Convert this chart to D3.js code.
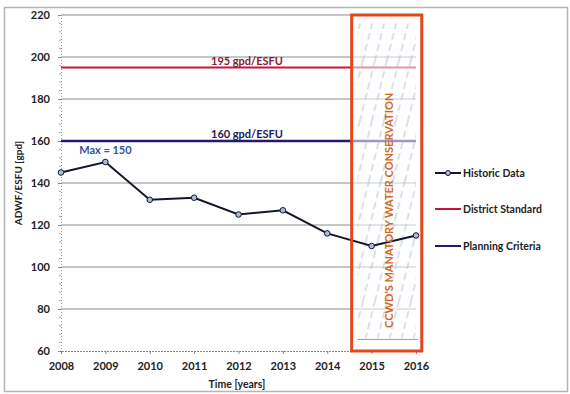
<!DOCTYPE html>
<html>
<head>
<meta charset="utf-8">
<script src="https://cdn.jsdelivr.net/npm/d3@7"></script>
<style>
  body { margin: 0; background: #fff; }
  text { font-family: Lato, "Liberation Sans", sans-serif; font-weight: bold; }
</style>
</head>
<body>
<div id="chart"></div>
<script>
// data
const years = [2008, 2009, 2010, 2011, 2012, 2013, 2014, 2015, 2016];
const historic = [145, 150, 132, 133, 125, 127, 116, 110, 115];
const districtStandard = 195;
const planningCriteria = 160;
const yTicks = [60, 80, 100, 120, 140, 160, 180, 200, 220];
const conservationSpan = [2014.55, 2016.13];
const legendNames = ["Historic Data", "District Standard", "Planning Criteria"];

const W = 570, H = 394;
const x = d3.scaleLinear().domain([2008, 2016]).range([61, 416]);
const y = d3.scaleLinear().domain([60, 220]).range([351, 15]);

const svg = d3.select("#chart").append("svg")
    .attr("width", W).attr("height", H);

// outer frame
svg.append("rect")
    .attr("x", 4.5).attr("y", 7.5).attr("width", 563).attr("height", 384)
    .attr("fill", "none").attr("stroke", "#b5b5b5").attr("stroke-width", 1.5);

// hatch pattern for conservation box
let defs = svg.append("defs");
let pat = defs.append("pattern")
    .attr("id", "hatch").attr("patternUnits", "userSpaceOnUse")
    .attr("width", 12).attr("height", 60)
    .attr("patternTransform", "skewX(-14)");
pat.append("line")
    .attr("x1", 6).attr("y1", 0).attr("x2", 6).attr("y2", 60)
    .attr("stroke", "#9fb4cc").attr("stroke-width", 0.8)
    .attr("stroke-dasharray", "7,4");

// horizontal gridlines
svg.append("g").selectAll("line").data(yTicks.slice(1)).join("line")
    .attr("x1", x(2008)).attr("x2", x(2016))
    .attr("y1", d => y(d)).attr("y2", d => y(d))
    .attr("stroke", "#8c8c8c").attr("stroke-width", 1);

// y axis
let yAxis = svg.append("g").attr("transform", `translate(${x(2008)},0)`)
    .call(d3.axisLeft(y).tickValues(yTicks).tickSize(3).tickPadding(8));
yAxis.select(".domain").attr("stroke", "#999").attr("stroke-dasharray", "1,2");
yAxis.selectAll("text").attr("font-size", 11).attr("fill", "#222");
yAxis.selectAll(".tick line").attr("stroke", "#888");
// minor ticks
svg.append("g").selectAll("line").data(d3.range(64, 220, 4).filter(d => d % 20 !== 0)).join("line")
    .attr("x1", x(2008) - 2).attr("x2", x(2008))
    .attr("y1", d => y(d)).attr("y2", d => y(d))
    .attr("stroke", "#aaa");

// x axis
let xAxis = svg.append("g").attr("transform", `translate(0,${y(60)})`)
    .call(d3.axisBottom(x).tickValues(years).tickFormat(d3.format("d")).tickSize(3).tickPadding(8));
xAxis.select(".domain").attr("stroke", "#888").attr("stroke-dasharray", "2,1");
xAxis.selectAll("text").attr("font-size", 11).attr("fill", "#222");
xAxis.selectAll(".tick line").attr("stroke", "#888");

// axis titles
svg.append("text")
    .attr("transform", `translate(22,${y(140)}) rotate(-90)`)
    .attr("text-anchor", "middle").attr("font-size", 10).attr("fill", "#222")
    .text("ADWF/ESFU [gpd]");
svg.append("text")
    .attr("x", 237).attr("y", 388)
    .attr("text-anchor", "middle").attr("font-size", 10.5).attr("fill", "#222")
    .text("Time [years]");

// reference lines
svg.append("line")
    .attr("x1", x(2008)).attr("x2", x(2016))
    .attr("y1", y(districtStandard)).attr("y2", y(districtStandard))
    .attr("stroke", "#c8143c").attr("stroke-width", 2.2);
svg.append("line")
    .attr("x1", x(2008)).attr("x2", x(2016))
    .attr("y1", y(planningCriteria)).attr("y2", y(planningCriteria))
    .attr("stroke", "#23196e").attr("stroke-width", 2.4);

svg.append("text")
    .attr("x", 247).attr("y", y(districtStandard) - 3)
    .attr("text-anchor", "middle").attr("font-size", 11).attr("font-weight", "normal")
    .attr("fill", "#8a1838").text(districtStandard + " gpd/ESFU");
svg.append("text")
    .attr("x", 247).attr("y", y(planningCriteria) - 3)
    .attr("text-anchor", "middle").attr("font-size", 11)
    .attr("fill", "#1e1c5a").text(planningCriteria + " gpd/ESFU");

// conservation box
let bx0 = x(conservationSpan[0]), bx1 = x(conservationSpan[1]);
svg.append("rect")
    .attr("x", bx0).attr("y", y(220)).attr("width", bx1 - bx0).attr("height", y(60) - y(220))
    .attr("fill", "rgba(255,255,255,0.55)");
svg.append("rect")
    .attr("x", bx0 + 6).attr("y", y(216)).attr("width", bx1 - bx0 - 12).attr("height", y(66) - y(216))
    .attr("fill", "url(#hatch)");
svg.append("line")
    .attr("x1", bx0 + 6).attr("x2", bx1 - 4)
    .attr("y1", y(65.5)).attr("y2", y(65.5))
    .attr("stroke", "#999");

// historic data
let line = d3.line().x((d, i) => x(years[i])).y(d => y(d));
svg.append("path").datum(historic)
    .attr("d", line).attr("fill", "none")
    .attr("stroke", "#16162a").attr("stroke-width", 2);
svg.append("g").selectAll("circle").data(historic).join("circle")
    .attr("cx", (d, i) => x(years[i])).attr("cy", d => y(d))
    .attr("r", 2.8).attr("fill", "#a8bcd4").attr("stroke", "#16162a").attr("stroke-width", 1);

svg.append("text")
    .attr("x", x(2009)).attr("y", y(150) - 8)
    .attr("text-anchor", "middle").attr("font-size", 11)
    .attr("fill", "#2f5597").text("Max = 150");

svg.append("rect")
    .attr("x", bx0).attr("y", y(220)).attr("width", bx1 - bx0).attr("height", y(60) - y(220))
    .attr("fill", "none").attr("stroke", "#e4461e").attr("stroke-width", 3);

svg.append("text")
    .attr("transform", `translate(${(bx0 + bx1) / 2 + 3},${y(127)}) rotate(-90)`)
    .attr("text-anchor", "middle").attr("dominant-baseline", "middle")
    .attr("font-size", 11).attr("font-weight", "normal").attr("fill", "#d2691e")
    .text("CCWD'S MANATORY WATER CONSERVATION");

// legend
const legendColors = ["#16162a", "#c8143c", "#23196e"];
const legendY = [173, 209, 246];
let lg = svg.append("g").selectAll("g").data(legendNames).join("g")
    .attr("transform", (d, i) => `translate(435,${legendY[i]})`);
lg.append("line").attr("x1", 0).attr("x2", 26)
    .attr("stroke", (d, i) => legendColors[i]).attr("stroke-width", 2);
lg.filter((d, i) => i === 0).append("circle")
    .attr("cx", 13).attr("r", 2.5).attr("fill", "#a8bcd4").attr("stroke", "#16162a");
lg.append("text").attr("x", 28).attr("dy", "0.35em")
    .attr("font-size", 10.5).attr("fill", "#222").text(d => d);
</script>
</body>
</html>
